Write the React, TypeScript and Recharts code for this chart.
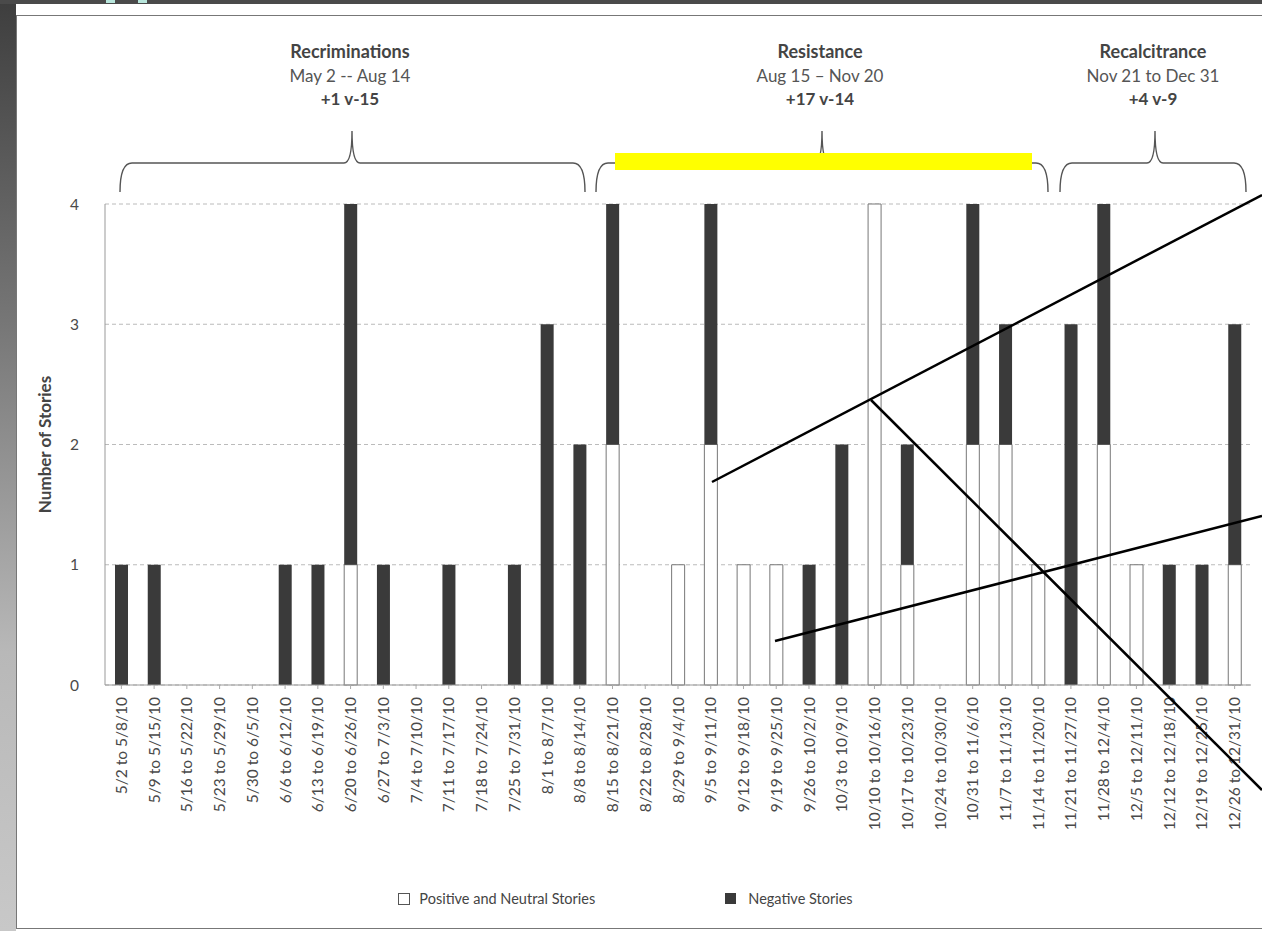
import React from 'react';
import { BarChart, Bar, XAxis, YAxis, CartesianGrid, Legend, Label } from 'recharts';

const weeks = [
  '5/2 to 5/8/10', '5/9 to 5/15/10', '5/16 to 5/22/10', '5/23 to 5/29/10', '5/30 to 6/5/10',
  '6/6 to 6/12/10', '6/13 to 6/19/10', '6/20 to 6/26/10', '6/27 to 7/3/10', '7/4 to 7/10/10',
  '7/11 to 7/17/10', '7/18 to 7/24/10', '7/25 to 7/31/10', '8/1 to 8/7/10', '8/8 to 8/14/10',
  '8/15 to 8/21/10', '8/22 to 8/28/10', '8/29 to 9/4/10', '9/5 to 9/11/10', '9/12 to 9/18/10',
  '9/19 to 9/25/10', '9/26 to 10/2/10', '10/3 to 10/9/10', '10/10 to 10/16/10', '10/17 to 10/23/10',
  '10/24 to 10/30/10', '10/31 to 11/6/10', '11/7 to 11/13/10', '11/14 to 11/20/10', '11/21 to 11/27/10',
  '11/28 to 12/4/10', '12/5 to 12/11/10', '12/12 to 12/18/10', '12/19 to 12/25/10', '12/26 to 12/31/10',
];
const positiveStories = [0, 0, 0, 0, 0, 0, 0, 1, 0, 0, 0, 0, 0, 0, 0, 2, 0, 1, 2, 1, 1, 0, 0, 4, 1, 0, 2, 2, 1, 0, 2, 1, 0, 0, 1];
const negativeStories = [1, 1, 0, 0, 0, 1, 1, 3, 1, 0, 1, 0, 1, 3, 2, 2, 0, 0, 2, 0, 0, 1, 2, 0, 1, 0, 2, 1, 0, 3, 2, 0, 1, 1, 2];
const yTicks = [0, 1, 2, 3, 4];

const phaseTitles = ['Recriminations', 'Resistance', 'Recalcitrance'];
const phaseDates = ['May 2 -- Aug 14', 'Aug 15 \u2013 Nov 20', 'Nov 21 to Dec 31'];
const phaseScores = ['+1 v-15', '+17 v-14', '+4 v-9'];

const seriesNames = ['Positive and Neutral Stories', 'Negative Stories'];

const data = weeks.map((w, i) => ({ week: w, pos: positiveStories[i], neg: negativeStories[i] }));

const FONT = 'Lato, "Open Sans", sans-serif';

// annotation geometry (overlay)
const braces = [
  { x1: 120, x2: 585, cx: 352 },
  { x1: 596, x2: 1048, cx: 822 },
  { x1: 1060, x2: 1246, cx: 1155 },
];

const XTick = (props: any) => {
  const { x, y, payload } = props;
  const ty = y + 6;
  return (
    <text
      x={x}
      y={ty}
      transform={`rotate(-90, ${x}, ${ty})`}
      textAnchor="end"
      dy="0.36em"
      fontSize={15.5}
      fontFamily={FONT}
      fill="#4a4a4a"
    >
      {payload.value}
    </text>
  );
};

const LegendContent = () => (
  <div style={{ display: 'flex', justifyContent: 'center', alignItems: 'center', fontFamily: FONT, fontSize: 14.5, color: '#444', paddingLeft: 0, marginTop: 7 }}>
    <span style={{ display: 'inline-block', width: 10, height: 10, border: '1px solid #555', background: '#fff', marginRight: 9 }} />
    <span style={{ marginRight: 130 }}>{seriesNames[0]}</span>
    <span style={{ display: 'inline-block', width: 11, height: 11, background: '#3a3a3a', marginRight: 12 }} />
    <span>{seriesNames[1]}</span>
  </div>
);

const Brace = ({ x1, x2, cx }: { x1: number; x2: number; cx: number }) => {
  const yb = 163;
  const d = `M ${x1} 192 Q ${x1} ${yb} ${x1 + 12} ${yb} L ${cx - 8} ${yb} Q ${cx} ${yb} ${cx} 131 Q ${cx} ${yb} ${cx + 8} ${yb} L ${x2 - 12} ${yb} Q ${x2} ${yb} ${x2} 192`;
  return <path d={d} fill="none" stroke="#555" strokeWidth={1.4} />;
};

export default function App() {
  return (
    <div style={{ position: 'absolute', left: 0, top: 0, width: 1262, height: 931, background: '#fff', overflow: 'hidden' }}>
      <div style={{ position: 'absolute', left: 0, top: 0, width: 16, height: 931, background: 'linear-gradient(to bottom, #3e3e3e 0%, #777 35%, #b8b8b8 70%, #c8c8c8 100%)' }} />
      <div style={{ position: 'absolute', left: 0, top: 0, width: 1262, height: 4, background: '#4a4a4a' }} />
      <div style={{ position: 'absolute', left: 106, top: 0, width: 9, height: 3, background: '#b8e6dc' }} />
      <div style={{ position: 'absolute', left: 138, top: 0, width: 9, height: 3, background: '#b8e6dc' }} />
      <div style={{ position: 'absolute', left: 16, top: 15, width: 1260, height: 914, border: '1.5px solid #777', boxSizing: 'border-box' }} />
      <div style={{ position: 'absolute', left: 0, top: 0 }}>
        <BarChart width={1262} height={931} data={data} margin={{ top: 204, right: 11, left: 0, bottom: 18 }} barSize={13}>
          <CartesianGrid vertical={false} stroke="#bbb" strokeDasharray="4 3" />
          <XAxis
            dataKey="week"
            interval={0}
            height={198}
            tick={<XTick />}
            tickSize={4}
            tickMargin={2}
            axisLine={{ stroke: '#999' }}
            tickLine={{ stroke: '#aaa' }}
          />
          <YAxis
            width={105}
            domain={[0, 4]}
            ticks={yTicks}
            allowDecimals={false}
            tickLine={false}
            tickMargin={20}
            axisLine={{ stroke: '#999' }}
            tick={{ fontSize: 15.5, fontFamily: FONT, fill: '#4a4a4a' }}
          >
            <Label
              content={(p: any) => {
                const vb = p.viewBox || {};
                const cy = (vb.y || 204) + (vb.height || 481) / 2;
                return (
                  <text x={51} y={cy} transform={`rotate(-90, 51, ${cy})`} textAnchor="middle" fontSize={17} fontWeight="bold" fontFamily={FONT} fill="#444">
                    Number of Stories
                  </text>
                );
              }}
            />
          </YAxis>
          <Legend verticalAlign="bottom" height={30} content={<LegendContent />} />
          <Bar dataKey="pos" name={seriesNames[0]} stackId="a" fill="#ffffff" stroke="#777" strokeWidth={1} isAnimationActive={false} />
          <Bar dataKey="neg" name={seriesNames[1]} stackId="a" fill="#3a3a3a" isAnimationActive={false} />
        </BarChart>
      </div>
      <svg width={1262} height={931} style={{ position: 'absolute', left: 0, top: 0, pointerEvents: 'none' }}>
        {braces.map((b, i) => (
          <g key={i}>
            <Brace {...b} />
            <text x={b.cx - 2} y={58} textAnchor="middle" fontFamily={FONT} fontSize={18} fontWeight="bold" fill="#444">{phaseTitles[i]}</text>
            <text x={b.cx - 2} y={82} textAnchor="middle" fontFamily={FONT} fontSize={17} fill="#555">{phaseDates[i]}</text>
            <text x={b.cx - 2} y={105} textAnchor="middle" fontFamily={FONT} fontSize={17} fontWeight="bold" fill="#444">{phaseScores[i]}</text>
          </g>
        ))}
        <rect x={615} y={153} width={417} height={17} fill="#ffff00" />
        <line x1={712} y1={482} x2={1262} y2={195} stroke="#000" strokeWidth={2.5} />
        <line x1={871} y1={400} x2={1262} y2={790} stroke="#000" strokeWidth={2.5} />
        <line x1={775} y1={641} x2={1262} y2={516} stroke="#000" strokeWidth={2.5} />
      </svg>
    </div>
  );
}
